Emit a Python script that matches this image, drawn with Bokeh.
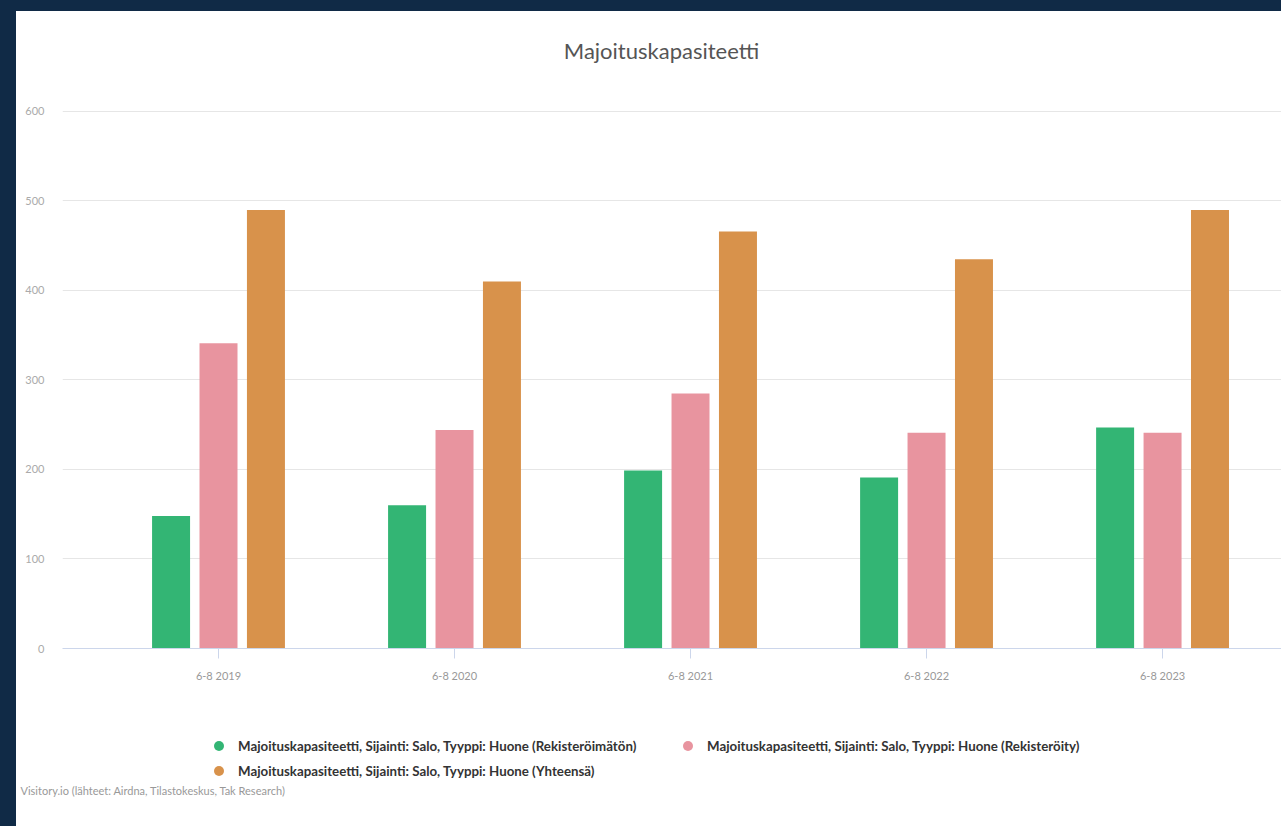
from bokeh.plotting import figure
from bokeh.models import (ColumnDataSource, FixedTicker, Legend, LegendItem, Label,
                          Range1d, GlobalInlineStyleSheet)
from bokeh.layouts import column
from bokeh.transform import dodge
from bokeh.embed import file_html
from bokeh.resources import INLINE

# ---- data ----
periods = ["6-8 2019", "6-8 2020", "6-8 2021", "6-8 2022", "6-8 2023"]
rekisteroimaton = [148, 160, 199, 191, 247]
rekisteroity = [341, 244, 285, 241, 241]
yhteensa = [490, 410, 466, 435, 490]
series_names = [
    "Majoituskapasiteetti, Sijainti: Salo, Tyyppi: Huone (Rekisteröimätön)",
    "Majoituskapasiteetti, Sijainti: Salo, Tyyppi: Huone (Rekisteröity)",
    "Majoituskapasiteetti, Sijainti: Salo, Tyyppi: Huone (Yhteensä)",
]
y_ticks = [0, 100, 200, 300, 400, 500, 600]
title_text = "Majoituskapasiteetti"
credits_text = "Visitory.io (lähteet: Airdna, Tilastokeskus, Tak Research)"

colors = ["#33b574", "#e8949f", "#d8924b"]


def strip(height):
    f = figure(width=1265, height=height, output_backend="svg", toolbar_location=None,
               title=None, x_range=Range1d(0, 1), y_range=Range1d(0, 1),
               x_axis_location=None, y_axis_location=None,
               min_border_left=0, min_border_right=0, min_border_top=0, min_border_bottom=0,
               background_fill_color="white", border_fill_color="white")
    f.outline_line_color = None
    f.frame_align = False
    f.xgrid.visible = False
    f.ygrid.visible = False
    return f


# ---------------- title strip ----------------
tt = strip(90)
tt.add_layout(Label(x=645, y=51, x_units="screen", y_units="screen", text=title_text,
                    text_font="Lato", text_font_size="22px", text_color="#555555",
                    text_align="center", text_baseline="middle"))

# ---------------- main chart ----------------
idx = list(range(len(periods)))
source = ColumnDataSource(dict(x=idx, a=rekisteroimaton, b=rekisteroity, c=yhteensa))

p = figure(width=1265, height=592, output_backend="svg", toolbar_location=None,
           title=None,
           x_range=Range1d(-0.661, 4.504), y_range=Range1d(0, 602.23),
           min_border_left=46, min_border_right=0, min_border_top=8,
           min_border_bottom=45,
           background_fill_color="white", border_fill_color="white")
p.outline_line_color = None
p.frame_align = False

bw = 0.161
off = 0.201
cols = ["a", "b", "c"]
for i, (col, color) in enumerate(zip(cols, colors)):
    p.vbar(x=dodge("x", (i - 1) * off, range=p.x_range), top=col, width=bw,
           source=source, fill_color=color, line_color=None)

p.xaxis.ticker = FixedTicker(ticks=idx)
p.xaxis.major_label_overrides = {i: lab for i, lab in zip(idx, periods)}
p.xaxis.axis_line_color = "#ccd6eb"
p.xaxis.major_tick_line_color = "#ccd6eb"
p.xaxis.major_tick_out = 10
p.xaxis.major_tick_in = 0
p.xaxis.minor_tick_line_color = None
p.xaxis.major_label_text_font = "Lato"
p.xaxis.major_label_text_font_size = "11px"
p.xaxis.major_label_text_color = "#999999"
p.xaxis.major_label_standoff = 10

p.yaxis.ticker = FixedTicker(ticks=y_ticks)
p.yaxis.axis_line_color = None
p.yaxis.major_tick_line_color = None
p.yaxis.minor_tick_line_color = None
p.yaxis.major_label_text_font = "Lato"
p.yaxis.major_label_text_font_size = "11px"
p.yaxis.major_label_text_color = "#aaaaaa"
p.yaxis.major_label_standoff = 12

p.xgrid.grid_line_color = None
p.ygrid.grid_line_color = "#e6e6e6"

# ---------------- legend + credits strip ----------------
lg = strip(133)

nan = float("nan")
items = []
for name, color in zip(series_names, colors):
    r = lg.scatter(x=[nan], y=[nan], marker="circle", size=10, fill_color=color, line_color=None)
    items.append(LegendItem(label=name, renderers=[r]))

legend = Legend(items=items, orientation="horizontal", ncols=2, location=(190, 43),
                border_line_color=None, background_fill_alpha=0,
                label_text_font="Lato", label_text_font_style="bold",
                label_text_font_size="13.3px", label_text_color="#333333",
                glyph_width=25, glyph_height=25, label_standoff=7,
                label_width=437, label_height=16,
                spacing=0, padding=4, margin=0)
lg.add_layout(legend, "center")

lg.add_layout(Label(x=4, y=36, x_units="screen", y_units="screen", text=credits_text,
                    text_font="Lato", text_font_size="11px", text_color="#999999",
                    text_baseline="middle", text_align="left"))

css = GlobalInlineStyleSheet(css="html, body {margin:0 !important; padding:0; background:#102a46; overflow:hidden;}")
layout = column(tt, p, lg, spacing=0,
                styles={"margin": "11px 0 0 16px", "background-color": "white"},
                stylesheets=[css])

open("out.html", "w").write(file_html(layout, INLINE))
